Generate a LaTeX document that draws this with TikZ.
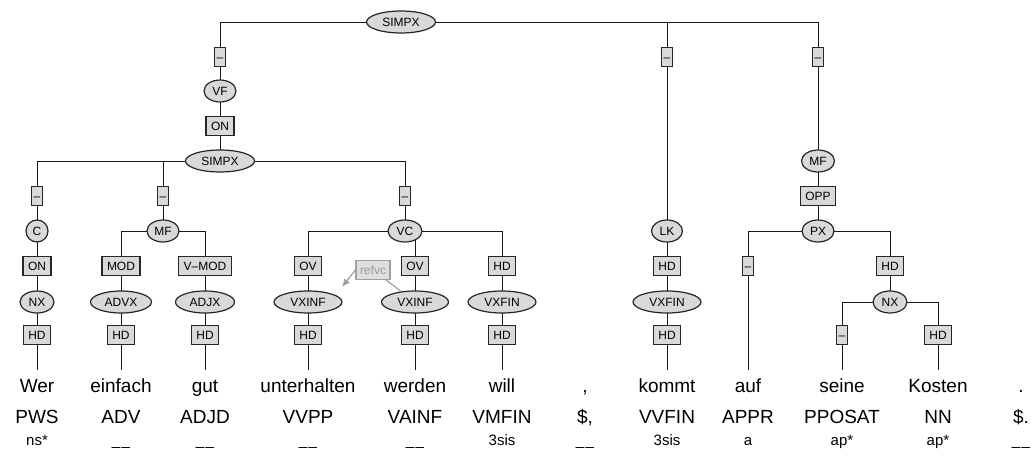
\documentclass[tikz,border=0pt]{standalone}
\usepackage{fontspec}
\setmainfont{Liberation Sans}
\usetikzlibrary{shapes.geometric,arrows.meta}
\pgfdeclarelayer{bg}
\pgfsetlayers{bg,main}
\newcommand{\nomorph}{\_\kern1.4pt\_}
\begin{document}
\begin{tikzpicture}[x=1pt,y=-1pt,
  lab/.style={draw=black!85, line width=1.2pt, fill=gray!30, rectangle, inner xsep=5pt, inner ysep=0pt, minimum height=19pt, font=\fontsize{12}{12}\selectfont, text height=8.6pt, text depth=0pt},
  dlab/.style={lab, inner xsep=2.2pt},
  ell/.style={draw=black!85, line width=1.2pt, fill=gray!30, ellipse, inner sep=0pt, minimum width=#1, minimum height=22pt, font=\fontsize{12}{12}\selectfont, text height=8.6pt, text depth=0pt},
  wordnode/.style={anchor=base, font=\fontsize{19}{19}\selectfont, inner xsep=0pt, inner ysep=8pt, text height=14pt, text depth=4pt},
  posnode/.style={anchor=base, font=\fontsize{19}{19}\selectfont, inner sep=0pt},
  mtag/.style={anchor=base, font=\fontsize{15}{15}\selectfont, inner sep=0pt},
  treeedge/.style={line width=1pt, black!90},
  refbox/.style={draw=gray!75, text=gray!80, fill=gray!25, line width=1.2pt, rectangle, inner xsep=4pt, inner ysep=0pt, minimum height=19pt, font=\fontsize{12}{12}\selectfont, text height=8.6pt, text depth=0pt},
  refline/.style={draw=gray!75, line width=1.2pt}
]
\useasboundingbox (0,0) rectangle (1031,458);
% top level
\node[ell=69] (s0) at (401,22) {SIMPX};
\node[dlab] (d1) at (220,57) {–};
\node[dlab] (d2) at (667,57) {–};
\node[dlab] (d3) at (818,57) {–};
\node[ell=32] (vf) at (220,91) {VF};
\node[lab] (on1) at (220,126) {ON};
\node[ell=69] (s1) at (220,161) {SIMPX};
\node[dlab] (d4) at (37,196) {–};
\node[dlab] (d5) at (163,196) {–};
\node[dlab] (d6) at (405,196) {–};
\node[ell=22] (c) at (37,231) {C};
\node[ell=32] (mf1) at (163,231) {MF};
\node[ell=34] (vc) at (405,231) {VC};
\node[lab] (on2) at (37,266) {ON};
\node[lab] (mod) at (121,266) {MOD};
\node[lab] (vmod) at (205,266) {V–MOD};
\node[lab] (ov1) at (308,266) {OV};
\node[lab] (ov2) at (415,266) {OV};
\node[lab] (hdv) at (502,266) {HD};
\node[ell=34] (nx1) at (37,302) {NX};
\node[ell=61] (advx) at (121,302) {ADVX};
\node[ell=59] (adjx) at (205,302) {ADJX};
\node[ell=68] (vxi1) at (308,302) {VXINF};
\node[ell=67] (vxi2) at (415,302) {VXINF};
\node[ell=68] (vxf1) at (502,302) {VXFIN};
\node[lab] (hd1) at (37,335) {HD};
\node[lab] (hd2) at (121,335) {HD};
\node[lab] (hd3) at (205,335) {HD};
\node[lab] (hd4) at (308,335) {HD};
\node[lab] (hd5) at (415,335) {HD};
\node[lab] (hd6) at (502,335) {HD};
% LK column
\node[ell=31] (lk) at (667,231) {LK};
\node[lab] (hdl) at (667,266) {HD};
\node[ell=68] (vxf2) at (667,302) {VXFIN};
\node[lab] (hdl2) at (667,335) {HD};
% MF column
\node[ell=33] (mf2) at (818,161) {MF};
\node[lab] (opp) at (818,196) {OPP};
\node[ell=32] (px) at (818,231) {PX};
\node[dlab] (d7) at (748,266) {–};
\node[lab] (hdp) at (890,266) {HD};
\node[ell=34] (nx2) at (890,302) {NX};
\node[dlab] (d8) at (842,335) {–};
\node[lab] (hdn) at (938,335) {HD};
% secondary edge
\node[refbox] (refvc) at (373,270) {refvc};
\coordinate (reftip) at (342,287);
\draw[refline] (vxi2) -- (refvc);
\draw[refline, -{Latex[length=8pt,width=7pt]}] (refvc.west) -- (reftip);
% words
\node[wordnode] (w1) at (37,392) {Wer};
\node[wordnode] (w2) at (121,392) {einfach};
\node[wordnode] (w3) at (205,392) {gut};
\node[wordnode] (w4) at (308,392) {unterhalten};
\node[wordnode] (w5) at (415,392) {werden};
\node[wordnode] (w6) at (502,392) {will};
\node[wordnode] (w7) at (585,392) {,};
\node[wordnode] (w8) at (667,392) {kommt};
\node[wordnode] (w9) at (748,392) {auf};
\node[wordnode] (w10) at (842,392) {seine};
\node[wordnode] (w11) at (938,392) {Kosten};
\node[wordnode] (w12) at (1021,392) {.};
% POS
\node[posnode] (p1) at (37,423) {PWS};
\node[posnode] (p2) at (121,423) {ADV};
\node[posnode] (p3) at (205,423) {ADJD};
\node[posnode] (p4) at (308,423) {VVPP};
\node[posnode] (p5) at (415,423) {VAINF};
\node[posnode] (p6) at (502,423) {VMFIN};
\node[posnode] (p7) at (585,423) {\$,};
\node[posnode] (p8) at (667,423) {VVFIN};
\node[posnode] (p9) at (748,423) {APPR};
\node[posnode] (p10) at (842,423) {PPOSAT};
\node[posnode] (p11) at (938,423) {NN};
\node[posnode] (p12) at (1021,423) {\$.};
% morph tags
\node[mtag] (t1) at (37,445) {ns*};
\node[mtag] (t2) at (121,445) {\nomorph};
\node[mtag] (t3) at (205,445) {\nomorph};
\node[mtag] (t4) at (308,445) {\nomorph};
\node[mtag] (t5) at (415,445) {\nomorph};
\node[mtag] (t6) at (502,445) {3sis};
\node[mtag] (t7) at (585,445) {\nomorph};
\node[mtag] (t8) at (667,445) {3sis};
\node[mtag] (t9) at (748,445) {a};
\node[mtag] (t10) at (842,445) {ap*};
\node[mtag] (t11) at (938,445) {ap*};
\node[mtag] (t12) at (1021,445) {\nomorph};
% tree edges
\begin{pgfonlayer}{bg}
\draw[treeedge] (s0.center) -| (d1.center);
\draw[treeedge] (s0.center) -| (d2.center);
\draw[treeedge] (s0.center) -| (d3.center);
\draw[treeedge] (d1.center) -- (vf.center);
\draw[treeedge] (vf.center) -- (on1.center);
\draw[treeedge] (on1.center) -- (s1.center);
\draw[treeedge] (s1.center) -| (d4.center);
\draw[treeedge] (s1.center) -| (d5.center);
\draw[treeedge] (s1.center) -| (d6.center);
\draw[treeedge] (d4.center) -- (c.center);
\draw[treeedge] (d5.center) -- (mf1.center);
\draw[treeedge] (d6.center) -- (vc.center);
\draw[treeedge] (c.center) -- (on2.center);
\draw[treeedge] (mf1.center) -| (mod.center);
\draw[treeedge] (mf1.center) -| (vmod.center);
\draw[treeedge] (vc.center) -| (ov1.center);
\draw[treeedge] (vc.center) -| (ov2.center);
\draw[treeedge] (vc.center) -| (hdv.center);
\draw[treeedge] (on2.center) -- (nx1.center);
\draw[treeedge] (mod.center) -- (advx.center);
\draw[treeedge] (vmod.center) -- (adjx.center);
\draw[treeedge] (ov1.center) -- (vxi1.center);
\draw[treeedge] (ov2.center) -- (vxi2.center);
\draw[treeedge] (hdv.center) -- (vxf1.center);
\draw[treeedge] (nx1.center) -- (hd1.center);
\draw[treeedge] (advx.center) -- (hd2.center);
\draw[treeedge] (adjx.center) -- (hd3.center);
\draw[treeedge] (vxi1.center) -- (hd4.center);
\draw[treeedge] (vxi2.center) -- (hd5.center);
\draw[treeedge] (vxf1.center) -- (hd6.center);
\draw[treeedge] (hd1.center) -- (w1.north);
\draw[treeedge] (hd2.center) -- (w2.north);
\draw[treeedge] (hd3.center) -- (w3.north);
\draw[treeedge] (hd4.center) -- (w4.north);
\draw[treeedge] (hd5.center) -- (w5.north);
\draw[treeedge] (hd6.center) -- (w6.north);
\draw[treeedge] (d2.center) -- (lk.center);
\draw[treeedge] (lk.center) -- (hdl.center);
\draw[treeedge] (hdl.center) -- (vxf2.center);
\draw[treeedge] (vxf2.center) -- (hdl2.center);
\draw[treeedge] (hdl2.center) -- (w8.north);
\draw[treeedge] (d3.center) -- (mf2.center);
\draw[treeedge] (mf2.center) -- (opp.center);
\draw[treeedge] (opp.center) -- (px.center);
\draw[treeedge] (px.center) -| (d7.center);
\draw[treeedge] (px.center) -| (hdp.center);
\draw[treeedge] (d7.center) -- (w9.north);
\draw[treeedge] (hdp.center) -- (nx2.center);
\draw[treeedge] (nx2.center) -| (d8.center);
\draw[treeedge] (nx2.center) -| (hdn.center);
\draw[treeedge] (d8.center) -- (w10.north);
\draw[treeedge] (hdn.center) -- (w11.north);
\end{pgfonlayer}
\end{tikzpicture}
\end{document}
